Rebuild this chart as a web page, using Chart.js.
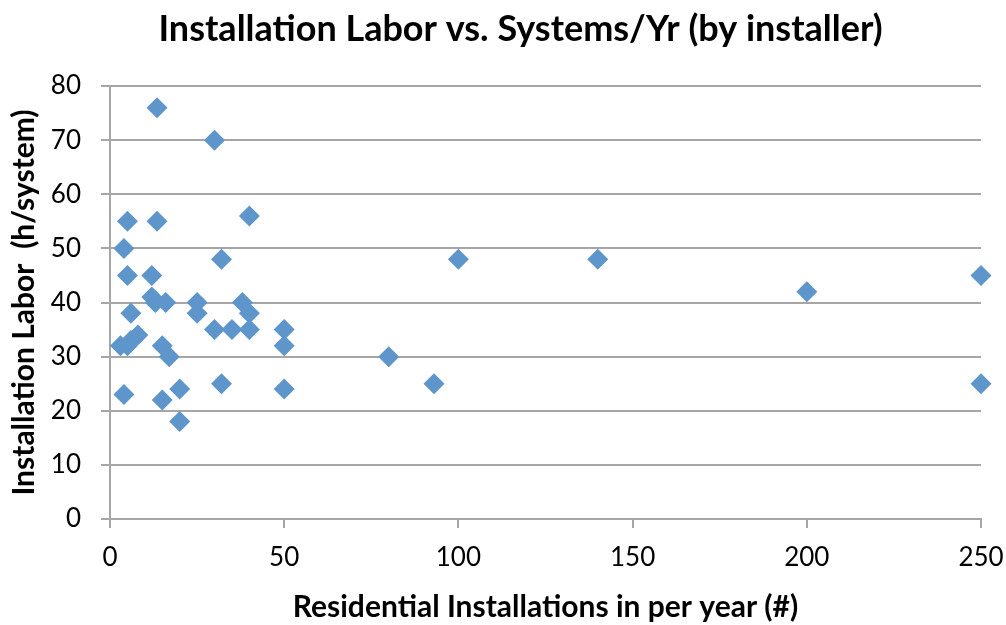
<!DOCTYPE html>
<html>
<head>
<meta charset="utf-8">
<script src="https://cdn.jsdelivr.net/npm/chart.js@4/dist/chart.umd.min.js"></script>
<style>
html,body{margin:0;padding:0;background:#fff;}
#wrap{width:1006px;height:625px;position:relative;}
</style>
</head>
<body>
<div id="wrap"><canvas id="c"></canvas></div>
<script>
const systemsPerYear = [13.5, 30, 40, 5, 13.5, 4, 32, 100, 140, 250, 200, 5, 12, 12, 13, 16, 6, 25, 25, 38, 40, 30, 35, 40, 50, 50, 3, 5, 6, 8, 15, 17, 80, 4, 15, 20, 32, 50, 93, 250, 20];
const laborHours    = [76, 70, 56, 55, 55, 50, 48, 48, 48, 45, 42, 45, 45, 41, 40, 40, 38, 40, 38, 40, 38, 35, 35, 35, 35, 32, 32, 32, 33, 34, 32, 30, 30, 23, 22, 24, 25, 24, 25, 25, 18];
const xTicks = [0, 50, 100, 150, 200, 250];
const yTicks = [0, 10, 20, 30, 40, 50, 60, 70, 80];

const points = systemsPerYear.map((x, i) => ({x: x, y: laborHours[i]}));
const gridColor = '#a6a6a6';
const fontFam = 'Lato, "Open Sans", sans-serif';

// shift the title block so its centre sits where the reference puts it
const titleShift = {
  id: 'titleShift',
  afterLayout(chart) {
    if (chart.titleBlock) { chart.titleBlock.left += 60; }
  }
};

new Chart(document.getElementById('c'), {
  type: 'scatter',
  data: {
    datasets: [{
      label: 'Installers',
      data: points,
      pointStyle: 'rectRot',
      pointRadius: 10.5,
      pointHoverRadius: 10.5,
      backgroundColor: '#5e96cc',
      borderColor: '#5e96cc',
      borderWidth: 0,
      clip: false
    }]
  },
  plugins: [titleShift],
  options: {
    responsive: true,
    maintainAspectRatio: false,
    animation: false,
    layout: {padding: {left: 0, right: 25, top: 0, bottom: 0}},
    plugins: {
      legend: {display: false},
      tooltip: {enabled: false},
      title: {
        display: true,
        text: 'Installation Labor vs. Systems/Yr (by installer)',
        color: '#000',
        font: {family: fontFam, size: 36, weight: 'bold', lineHeight: 1.2},
        padding: {top: 8, bottom: 34.8}
      }
    },
    scales: {
      x: {
        type: 'linear',
        min: 0, max: 250,
        afterBuildTicks: (s) => { s.ticks = xTicks.map(v => ({value: v})); },
        afterFit: (s) => { s.height = 106; s.paddingLeft = 0; s.paddingRight = 0; },
        ticks: {color: '#000', font: {family: fontFam, size: 26}, padding: 14},
        grid: {drawOnChartArea: false, drawTicks: true, tickLength: 9, color: gridColor, lineWidth: 2},
        border: {color: gridColor, width: 2},
        title: {display: true, text: 'Residential Installations in per year (#)', color: '#000',
                font: {family: fontFam, size: 30, weight: 'bold', lineHeight: 1.2}, padding: {top: 0, bottom: 0}}
      },
      y: {
        type: 'linear',
        min: 0, max: 80,
        afterBuildTicks: (s) => { s.ticks = yTicks.map(v => ({value: v})); },
        afterFit: (s) => { s.width = 110; s.paddingTop = 0; s.paddingBottom = 0; },
        ticks: {color: '#000', font: {family: fontFam, size: 26}, padding: 20},
        grid: {color: gridColor, lineWidth: 2, tickLength: 9},
        border: {color: gridColor, width: 2},
        title: {display: true, text: 'Installation Labor  (h/system)', color: '#000',
                font: {family: fontFam, size: 30, weight: 'bold', lineHeight: 1.2}, padding: {top: 6, bottom: 0}}
      }
    }
  }
});
</script>
</body>
</html>
